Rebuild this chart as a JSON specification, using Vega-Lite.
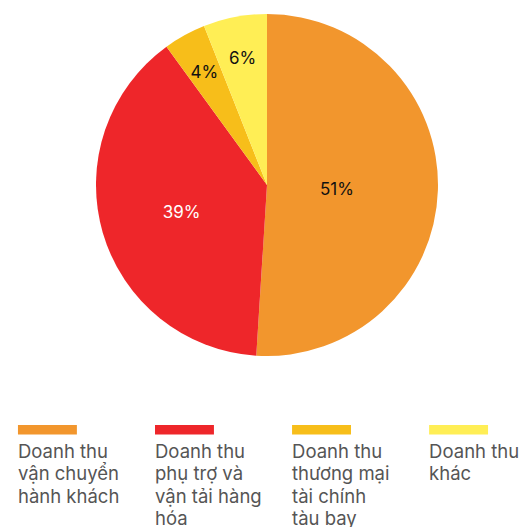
{
  "$schema": "https://vega.github.io/schema/vega-lite/v6.json",
  "padding": 0,
  "spacing": 55,
  "config": {"view": {"stroke": null}, "font": "Inter", "text": {"font": "Inter"}},
  "data": {
    "values": [
      {"i": 0, "label": "Doanh thu\nvận chuyển\nhành khách", "value": 0.51},
      {"i": 1, "label": "Doanh thu\nphụ trợ và\nvận tải hàng\nhóa", "value": 0.39},
      {"i": 2, "label": "Doanh thu\nthương mại\ntài chính\ntàu bay", "value": 0.04},
      {"i": 3, "label": "Doanh thu\nkhác", "value": 0.06}
    ]
  },
  "vconcat": [
    {
      "width": 534,
      "height": 370,
      "encoding": {
        "theta": {"field": "value", "type": "quantitative", "stack": true},
        "order": {"field": "i", "type": "quantitative", "sort": "ascending"}
      },
      "layer": [
        {
          "mark": {"type": "arc", "outerRadius": 171},
          "encoding": {
            "color": {
              "field": "label", "type": "nominal", "legend": null,
              "sort": {"field": "i"},
              "scale": {"range": ["#F2962D", "#EE262A", "#F7BE1A", "#FFEE55"]}
            }
          }
        },
        {
          "mark": {"type": "text", "radius": 70, "dy": 3, "fontSize": 17, "color": "#111111"},
          "encoding": {
            "text": {"condition": {"test": "datum.i == 0", "field": "value", "type": "quantitative", "format": ".0%"}, "value": ""}
          }
        },
        {
          "mark": {"type": "text", "radius": 89, "dy": 3, "fontSize": 17, "color": "#ffffff"},
          "encoding": {
            "text": {"condition": {"test": "datum.i == 1", "field": "value", "type": "quantitative", "format": ".0%"}, "value": ""}
          }
        },
        {
          "mark": {"type": "text", "radius": 130, "dy": 2, "fontSize": 17, "color": "#111111"},
          "encoding": {
            "text": {"condition": {"test": "datum.i >= 2", "field": "value", "type": "quantitative", "format": ".0%"}, "value": ""}
          }
        }
      ]
    },
    {
      "width": 506,
      "height": 9.5,
      "encoding": {
        "x": {
          "field": "label", "type": "nominal", "axis": null,
          "sort": {"field": "i"},
          "scale": {"paddingInner": 0.57, "paddingOuter": 0.131}
        }
      },
      "layer": [
        {
          "mark": {"type": "rect"},
          "encoding": {
            "color": {
              "field": "label", "type": "nominal", "legend": null,
              "sort": {"field": "i"},
              "scale": {"range": ["#F2962D", "#EE262A", "#F7BE1A", "#FFEE55"]}
            }
          }
        },
        {
          "mark": {"type": "text", "align": "left", "baseline": "top", "dy": 13, "fontSize": 18.5, "lineHeight": 22.5, "lineBreak": "\n", "color": "#555555"},
          "encoding": {
            "x": {
              "field": "label", "type": "nominal", "axis": null, "bandPosition": 0,
              "sort": {"field": "i"},
              "scale": {"paddingInner": 0.57, "paddingOuter": 0.131}
            },
            "text": {"field": "label"}
          }
        }
      ]
    }
  ]
}
